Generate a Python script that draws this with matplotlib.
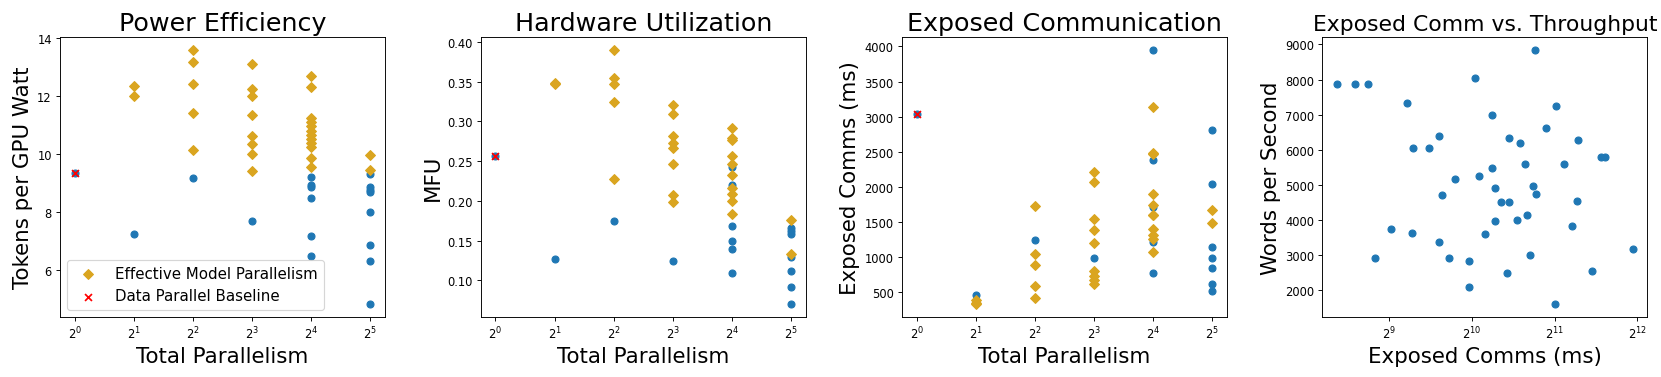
import matplotlib
matplotlib.use('Agg')
import matplotlib.pyplot as plt
import numpy as np

# 병렬화 설정별 결과
# total parallelism: 1, 2, 4, 8, 16, 32

# Power Efficiency - tokens per GPU watt
pow_eff_x = [2]*2 + [4]*5 + [8]*8 + [16]*12 + [32]*2
pow_eff_y = [12.34, 12.02,
             13.60, 13.17, 12.42, 11.43, 10.16,
             13.12, 12.25, 12.00, 11.36, 10.61, 10.34, 9.99, 9.43,
             12.69, 12.30, 11.26, 11.11, 10.96, 10.81, 10.66, 10.51, 10.37, 10.23, 9.86, 9.57,
             9.98, 9.46]
pow_all_x = [1, 2, 4, 8] + [16]*6 + [32]*8
pow_all_y = [9.35, 7.26, 9.18, 7.70,
             9.21, 8.92, 8.85, 8.50, 7.19, 6.47,
             9.31, 8.88, 8.77, 8.69, 8.00, 6.85, 6.32, 4.82]
pow_base = 9.35

# Hardware Utilization - MFU
mfu_eff_x = [2]*2 + [4]*5 + [8]*8 + [16]*10 + [32]*2
mfu_eff_y = [0.347, 0.348,
             0.390, 0.355, 0.347, 0.324, 0.228,
             0.320, 0.309, 0.282, 0.273, 0.266, 0.246, 0.208, 0.199,
             0.292, 0.279, 0.276, 0.257, 0.247, 0.232, 0.216, 0.209, 0.200, 0.183,
             0.176, 0.133]
mfu_all_x = [1, 2, 4, 8] + [16]*6 + [32]*7
mfu_all_y = [0.256, 0.1275, 0.175, 0.124,
             0.242, 0.220, 0.168, 0.149, 0.140, 0.109,
             0.166, 0.162, 0.159, 0.129, 0.112, 0.092, 0.070]
mfu_base = 0.256

# Exposed Communication (ms)
comm_eff_x = [2]*3 + [4]*5 + [8]*9 + [16]*11 + [32]*2
comm_eff_y = [390, 355, 330,
              1733, 1039, 888, 590, 425,
              2210, 2073, 1544, 1388, 1209, 798, 732, 670, 618,
              3140, 2489, 2470, 1903, 1742, 1605, 1595, 1402, 1317, 1261, 1081,
              1672, 1492]
comm_all_x = [1, 2, 4, 8] + [16]*5 + [32]*7
comm_all_y = [3041, 458, 1242, 996,
              3953, 2380, 1709, 1213, 779,
              2814, 2049, 1143, 991, 840, 623, 519]
comm_base = 3041

# Exposed Comm vs. Throughput
tp_comm = [330, 384, 428, 594, 623, 715, 773, 519, 621, 453, 793, 891, 773, 843, 997,
           995, 1046, 1084, 1144, 1206, 1210, 1244, 1244, 1301, 1391, 1400, 1372, 1496,
           1535, 1600, 1624, 1665, 1707, 1736, 1751, 1899, 2048, 2071, 2209, 2376, 2463,
           2485, 2811, 3031, 3135, 3941]
tp_words = [7866, 7885, 7885, 7337, 6053, 6053, 6393, 3757, 3634, 2907, 4702, 5164, 3379,
            2935, 2831, 2104, 8055, 5259, 3606, 6997, 5476, 4909, 3974, 4522, 4522, 6336,
            2482, 3993, 6204, 5590, 4154, 3011, 4976, 8849, 4730, 6619, 1603, 7262, 5590,
            3823, 4550, 6270, 2538, 5807, 5807, 3181]

gold = '#DAA520'
blue = '#1f77b4'

fig = plt.figure(figsize=(20.0, 4.551), dpi=83.05)
lefts = [0.0361, 0.2894, 0.5429, 0.7961]
axs = [fig.add_axes([l, 0.1587, 0.1957, 0.7407]) for l in lefts]

panels = [
    (pow_all_x, pow_all_y, pow_eff_x, pow_eff_y, pow_base, 'Power Efficiency', 'Tokens per GPU Watt'),
    (mfu_all_x, mfu_all_y, mfu_eff_x, mfu_eff_y, mfu_base, 'Hardware Utilization', 'MFU'),
    (comm_all_x, comm_all_y, comm_eff_x, comm_eff_y, comm_base, 'Exposed Communication', 'Exposed Comms (ms)'),
]
for ax, (ax_x, ax_y, ex, ey, base, title, ylab) in zip(axs, panels):
    ax.scatter(ax_x, ax_y, color=blue)
    ax.scatter(ex, ey, color=gold, marker='D', label='Effective Model Parallelism')
    ax.scatter([1], [base], color='red', marker='x', label='Data Parallel Baseline')
    ax.set_xscale('log', base=2)
    ax.set_title(title, fontsize=22)
    ax.set_xlabel('Total Parallelism', fontsize=18.5)
    ax.set_ylabel(ylab, fontsize=18.5)

axs[0].legend(loc='lower left', fontsize=13)

ax = axs[3]
ax.scatter(tp_comm, tp_words, color=blue)
ax.set_xscale('log', base=2)
ax.set_title('Exposed Comm vs. Throughput', fontsize=19)
ax.set_xlabel('Exposed Comms (ms)', fontsize=18.5)
ax.set_ylabel('Words per Second', fontsize=18.5)

plt.savefig('out.png', dpi=83.05)
